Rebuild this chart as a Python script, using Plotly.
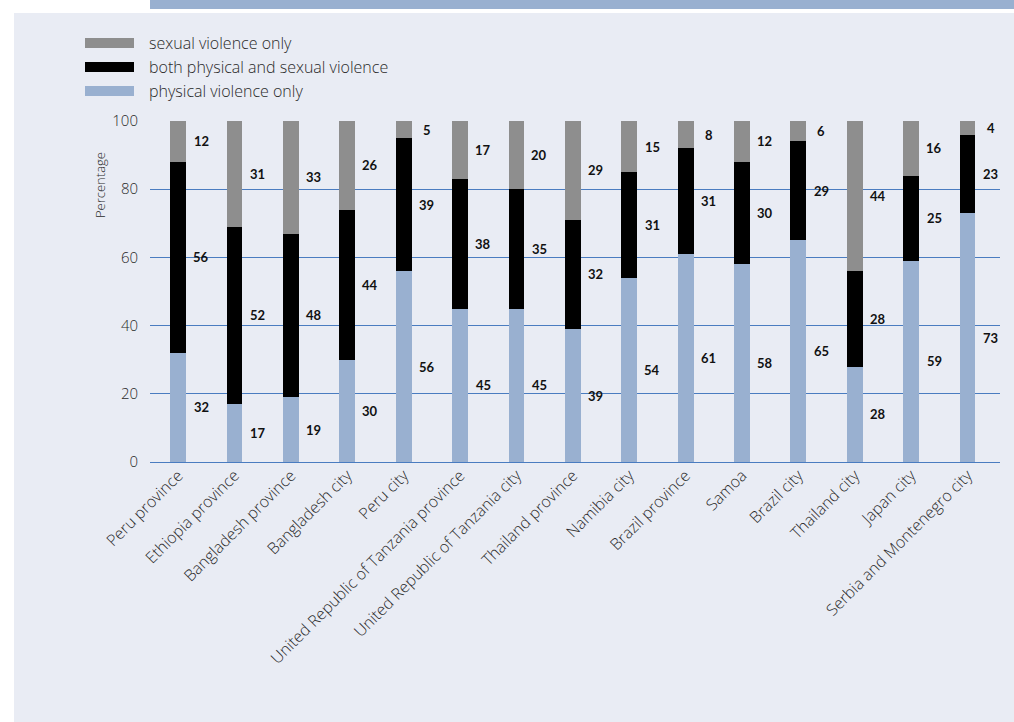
import plotly.graph_objects as go

categories = ["Peru province", "Ethiopia province", "Bangladesh province", "Bangladesh city",
              "Peru city", "United Republic of Tanzania province", "United Republic of Tanzania city",
              "Thailand province", "Namibia city", "Brazil province", "Samoa", "Brazil city",
              "Thailand city", "Japan city", "Serbia and Montenegro city"]
physical = [32, 17, 19, 30, 56, 45, 45, 39, 54, 61, 58, 65, 28, 59, 73]
both = [56, 52, 48, 44, 39, 38, 35, 32, 31, 31, 30, 29, 28, 25, 23]
sexual = [12, 31, 33, 26, 5, 17, 20, 29, 15, 8, 12, 6, 44, 16, 4]
y_ticks = [0, 20, 40, 60, 80, 100]
series_names = ["sexual violence only", "both physical and sexual violence", "physical violence only"]

C_SEX = "#8e8e8e"
C_BOTH = "#000000"
C_PHYS = "#99b0d0"
PANEL = "#e9ecf4"
GRID = "#4a7cc0"
FONT = "Open Sans"
TXT = "#2a2a2a"

W, H = 1014, 722
L, R, T, B = 150, 14, 121, 260
PW, PH = W - L - R, H - T - B


def px(x):
    return (x - L) / PW


def py(y):
    return (H - B - y) / PH


fig = go.Figure()
for name, vals, col in [(series_names[2], physical, C_PHYS),
                        (series_names[1], both, C_BOTH),
                        (series_names[0], sexual, C_SEX)]:
    fig.add_trace(go.Bar(x=categories, y=vals, name=name, marker=dict(color=col, line=dict(width=0)),
                         width=0.28, showlegend=False, hoverinfo="x+y+name"))

annotations = []
for i, c in enumerate(categories):
    base = 0
    for vals in (physical, both, sexual):
        v = vals[i]
        annotations.append(dict(x=c, y=base + v / 2, xref="x", yref="y", text=f"<b>{v}</b>",
                                showarrow=False, xshift=23, font=dict(size=13, color="#111111", family="Lato")))
        base += v

# y-axis title
annotations.append(dict(x=px(89), y=py(150), xref="paper", yref="paper", text="Percentage",
                        textangle=-90, showarrow=False,
                        font=dict(size=13, color=TXT, family=FONT, weight=300)))

shapes = [
    dict(type="rect", xref="paper", yref="paper", x0=px(14), x1=px(1014), y0=py(13), y1=py(722),
         fillcolor=PANEL, line=dict(width=0), layer="below"),
    dict(type="rect", xref="paper", yref="paper", x0=px(150), x1=px(1014), y0=py(0), y1=py(9),
         fillcolor=C_PHYS, line=dict(width=0), layer="below"),
]

# custom legend
leg_y = [43, 67, 91]
for name, col, yy in zip(series_names, [C_SEX, C_BOTH, C_PHYS], leg_y):
    shapes.append(dict(type="rect", xref="paper", yref="paper", x0=px(85), x1=px(134),
                       y0=py(yy + 5), y1=py(yy - 5), fillcolor=col, line=dict(width=0)))
    annotations.append(dict(x=px(147), y=py(yy), xref="paper", yref="paper", text=name,
                            xanchor="left", yanchor="middle", showarrow=False,
                            font=dict(size=16, color=TXT, family=FONT, weight=300)))

fig.update_layout(
    width=W, height=H, barmode="stack", bargap=0.72,
    margin=dict(l=L, r=R, t=T, b=B, autoexpand=False),
    paper_bgcolor="white", plot_bgcolor=PANEL,
    font=dict(family=FONT, color=TXT),
    shapes=shapes, annotations=annotations,
    xaxis=dict(tickangle=-45, tickfont=dict(size=16, color=TXT, family=FONT, weight=300),
               showgrid=False, showline=False, ticks="", automargin=False),
    yaxis=dict(range=[0, 100], tickvals=y_ticks, showgrid=True, gridcolor=GRID, gridwidth=1,
               zeroline=True, zerolinecolor=GRID, zerolinewidth=1, showline=False,
               tickfont=dict(size=15, color=TXT, family=FONT, weight=300), ticks="",
               ticklabelstandoff=11, automargin=False),
)

fig.write_html("out.html", config={"displayModeBar": False},
               post_script="document.body.style.margin='0';document.body.style.padding='0';")
